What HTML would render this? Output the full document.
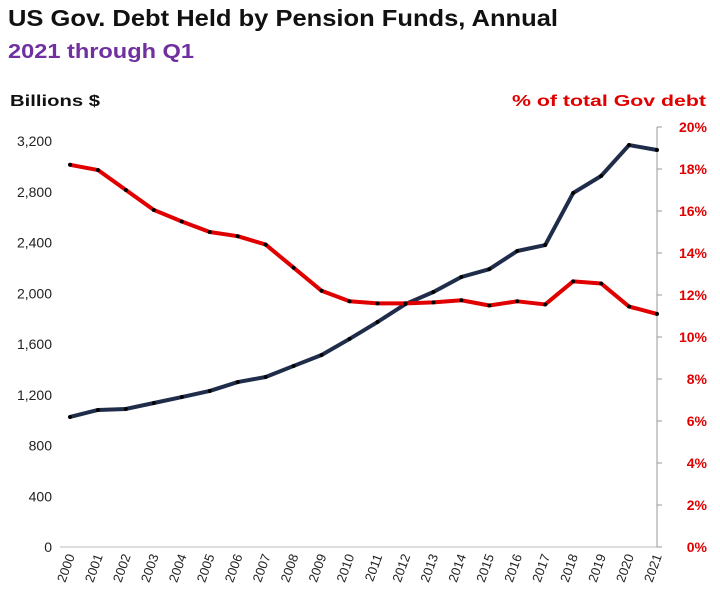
<!DOCTYPE html>
<html><head><meta charset="utf-8">
<style>
body{margin:0;background:#fff;width:720px;height:606px;overflow:hidden;font-family:"Liberation Sans",sans-serif}
</style></head><body>
<svg id="c" width="720" height="606" xmlns="http://www.w3.org/2000/svg">
<text x="8" y="26" font-size="23" font-weight="bold" fill="#111" textLength="550" lengthAdjust="spacingAndGlyphs">US Gov. Debt Held by Pension Funds, Annual</text>
<text x="8" y="58" font-size="20" font-weight="bold" fill="#7030a0" textLength="186" lengthAdjust="spacingAndGlyphs">2021 through Q1</text>
<text x="10" y="106" font-size="16" font-weight="bold" fill="#111" textLength="90" lengthAdjust="spacingAndGlyphs">Billions  $</text>
<text x="512" y="106" font-size="16" font-weight="bold" fill="#e00000" textLength="194" lengthAdjust="spacingAndGlyphs">% of total Gov debt</text>
<g id="g"></g>
</svg>
<script>
const years=[2000,2001,2002,2003,2004,2005,2006,2007,2008,2009,2010,2011,2012,2013,2014,2015,2016,2017,2018,2019,2020,2021];
const debt=[1025,1080,1088,1135,1182,1230,1300,1340,1427,1513,1640,1773,1915,2010,2128,2190,2333,2380,2790,2924,3168,3129];
const pct=[18.2,17.95,17.0,16.05,15.5,15.0,14.8,14.4,13.3,12.2,11.7,11.6,11.6,11.65,11.75,11.5,11.7,11.55,12.65,12.55,11.45,11.1];
const leftTicks=[0,400,800,1200,1600,2000,2400,2800,3200];
const rightTicks=[0,2,4,6,8,10,12,14,16,18,20];
const NS="http://www.w3.org/2000/svg",g=document.getElementById('g');
const x=i=>70+i*(587/21);
const yL=v=>547-v*(406/3200);
const yR=v=>547-v*21;
function el(t,a,txt){const e=document.createElementNS(NS,t);for(const k in a)e.setAttribute(k,a[k]);if(txt!=null)e.textContent=txt;g.appendChild(e);return e;}
let e=el('line',{x1:60,x2:657,y1:547,y2:547,stroke:'#bbb'});


e=el('line',{x1:657,x2:657,y1:127,y2:547,stroke:'#999'});


leftTicks.forEach(v=>{e=el('text',{x:52,y:yL(v)+5,'font-size':14,'text-anchor':'end',fill:'#222'},v.toLocaleString('en-US'));

});
rightTicks.forEach(v=>{el('line',{x1:657,x2:662,y1:yR(v),y2:yR(v),stroke:'#999'});
e=el('text',{x:707,y:yR(v)+5,'font-size':14,'font-weight':'bold','text-anchor':'end',fill:'#e00000'},v+'%');

});
years.forEach((yr,i)=>{const cx=x(i),cy=556;
e=el('text',{x:cx+5,y:cy,'font-size':13,'text-anchor':'end',fill:'#222',transform:`rotate(-70 ${cx+5} ${cy})`},yr);

});
e=el('polyline',{points:debt.map((v,i)=>x(i)+','+yL(v)).join(' '),fill:'none',stroke:'#1f2d4a','stroke-width':4,'stroke-linejoin':'round'});


e=el('polyline',{points:pct.map((v,i)=>x(i)+','+yR(v)).join(' '),fill:'none',stroke:'#e00000','stroke-width':4,'stroke-linejoin':'round'});


debt.forEach((v,i)=>{e=el('circle',{cx:x(i),cy:yL(v),r:2,fill:'#000'});

});
pct.forEach((v,i)=>{e=el('circle',{cx:x(i),cy:yR(v),r:2,fill:'#000'});

});
</script>
</body></html>
